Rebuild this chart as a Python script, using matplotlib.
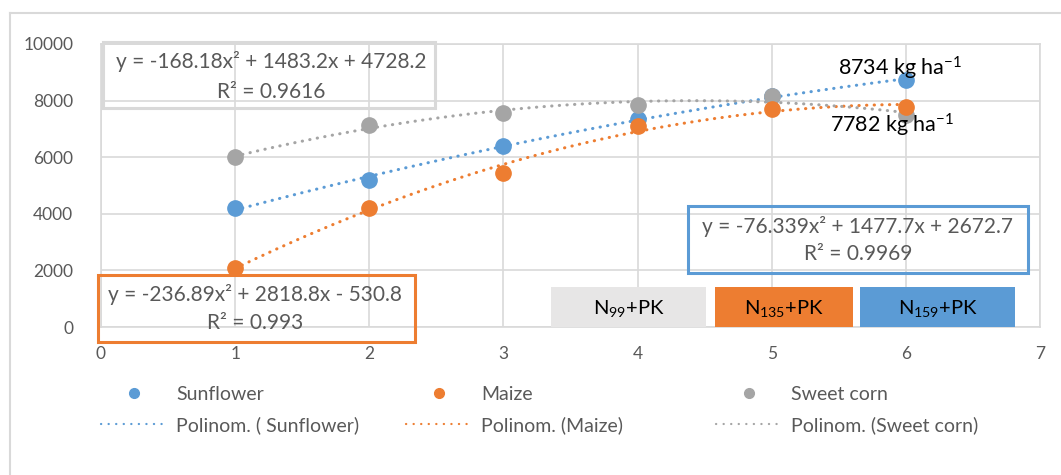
import matplotlib
matplotlib.use("Agg")
import matplotlib.pyplot as plt
import numpy as np
from matplotlib.lines import Line2D
from matplotlib.patches import Rectangle

plt.rcParams["font.family"] = ["Lato", "DejaVu Sans"]
plt.rcParams["mathtext.fontset"] = "custom"
plt.rcParams["mathtext.rm"] = "Lato"
plt.rcParams["mathtext.it"] = "Lato:italic"

# values
doses = [1, 2, 3, 4, 5, 6]
sunflower = [4200, 5200, 6400, 7350, 8150, 8734]
maize = [2100, 4200, 5450, 7100, 7700, 7782]
sweet_corn = [6000, 7150, 7550, 7850, 8150, 7500]
series_names = ["Sunflower", "Maize", "Sweet corn"]
trend_names = ["Polinom. ( Sunflower)", "Polinom. (Maize)", "Polinom. (Sweet corn)"]
eq_sunflower = ["y = -76.339x² + 1477.7x + 2672.7", "R² = 0.9969"]
eq_maize = ["y = -236.89x² + 2818.8x - 530.8", "R² = 0.993"]
eq_sweet = ["y = -168.18x² + 1483.2x + 4728.2", "R² = 0.9616"]
dose_labels = ["N$_{99}$+PK", "N$_{135}$+PK", "N$_{159}$+PK"]

BLUE = "#5B9BD5"
ORANGE = "#ED7D31"
GRAY = "#A5A5A5"
GRID = "#D9D9D9"
TXT = "#595959"

W, H = 1061, 475
fig = plt.figure(figsize=(W / 100, H / 100), dpi=100)


def px(x0, y0, x1, y1):
    return [x0 / W, 1 - y1 / H, (x1 - x0) / W, (y1 - y0) / H]


# outer chart frame
fig.add_artist(Line2D([10 / W, 1], [1 - 13 / H] * 2, color=GRID, lw=1.5))
fig.add_artist(Line2D([10 / W] * 2, [0, 1 - 13 / H], color=GRID, lw=1.5))

ax = fig.add_axes(px(101, 44, 1040, 327))
ax.set_xlim(0, 7)
ax.set_ylim(0, 10000)
ax.set_xticks(range(0, 8))
ax.set_yticks(range(0, 10001, 2000))
ax.grid(True, color=GRID, lw=1.2)
ax.set_axisbelow(True)
for s in ax.spines.values():
    s.set_color(GRID)
    s.set_linewidth(1.2)
ax.tick_params(length=0, labelsize=12.5, labelcolor=TXT)
ax.tick_params(axis="y", pad=20)
ax.tick_params(axis="x", pad=14)

xs = np.linspace(1, 6, 200)
dot = (0, (0.1, 2.4))
for vals, col in [(sunflower, BLUE), (maize, ORANGE), (sweet_corn, GRAY)]:
    coef = np.polyfit(doses, vals, 2)
    ax.plot(xs, np.polyval(coef, xs), color=col, lw=2.2, ls=dot,
            dash_capstyle="round", zorder=2)
for vals, col in [(sunflower, BLUE), (sweet_corn, GRAY), (maize, ORANGE)]:
    ax.plot(doses, vals, "o", color=col, ms=11, zorder=3)

# equation boxes (transparent, coloured edge)
boxes = [
    (eq_sweet, (0.015, 7739), 2.475, 2331, GRID, 1.27, (9364, 8304)),
    (eq_maize, (-0.022, -530), 2.362, 2367, ORANGE, 1.148, (1131, 141)),
    (eq_sunflower, (4.376, 1908), 2.535, 2368, BLUE, 5.643, (3534, 2580)),
]
for lines, xy, w, h, ec, cx, ys in boxes:
    ax.add_patch(Rectangle(xy, w, h, fill=False, ec=ec, lw=2.2,
                           clip_on=False, zorder=4))
    for t, yy in zip(lines, ys):
        ax.text(cx, yy, t, ha="center", va="center", fontsize=15,
                color=TXT, zorder=5)

ax.text(5.494, 9152, "8734 kg ha$^{-1}$", fontsize=15.5, va="center",
        color="black", zorder=5)
ax.text(5.435, 7138, "7782 kg ha$^{-1}$", fontsize=15.5, va="center",
        color="black", zorder=5)

# dose rectangles
rects = [(3.355, 4.510, "#E7E6E6"), (4.577, 5.606, ORANGE), (5.658, 6.814, BLUE)]
for (x0, x1, fc), lab in zip(rects, dose_labels):
    ax.add_patch(Rectangle((x0, 0), x1 - x0, 1413, fc=fc, ec="none", zorder=4))
    ax.text((x0 + x1) / 2, 650, lab, ha="center", va="center",
            fontsize=14.5, color="black", zorder=5)

# legend: three columns, markers on top row, trend lines below
legend_cols = [(BLUE, 101), (ORANGE, 406), (GRAY, 716)]
for i, (col, left) in enumerate(legend_cols):
    handles = [
        Line2D([], [], ls="none", marker="o", color=col, ms=7),
        Line2D([], [], color=col, lw=1.6, ls=(0, (0.1, 3.3)),
               dash_capstyle="round"),
    ]
    leg = fig.legend(handles, [series_names[i], trend_names[i]],
                     loc="upper left", bbox_to_anchor=(left / W, 1 - 386 / H),
                     frameon=False, fontsize=14, handlelength=3.35,
                     handletextpad=0.5, labelspacing=0.66, borderpad=0,
                     borderaxespad=0)
    for t in leg.get_texts():
        t.set_color(TXT)

fig.savefig("out.png", dpi=100)
